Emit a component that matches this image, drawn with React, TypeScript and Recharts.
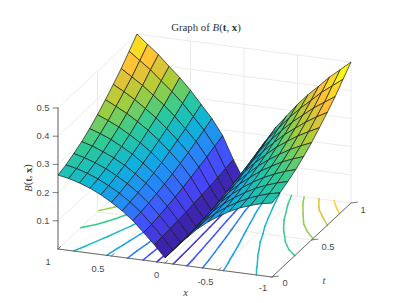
import React from 'react';
import { ScatterChart, Scatter, XAxis, YAxis } from 'recharts';

// Axis ticks and labels
const xTickVals = [1, 0.5, 0, -0.5, -1];
const tTickVals = [0, 0.5, 1];
const zTickVals = [0.1, 0.2, 0.3, 0.4, 0.5];
const xTickLabels = ['1', '0.5', '0', '-0.5', '-1'];
const tTickLabels = ['0', '0.5', '1'];
const zTickLabels = ['0.1', '0.2', '0.3', '0.4', '0.5'];
const contourLevels = [0.05, 0.1, 0.15, 0.2, 0.25, 0.3, 0.35, 0.4, 0.45];

// Surface grid
const xValues = [-1, -0.9, -0.8, -0.7, -0.6, -0.5, -0.4, -0.3, -0.2, -0.1, 0, 0.1, 0.2, 0.3, 0.4, 0.5, 0.6, 0.7, 0.8, 0.9, 1];
const tValues = [0, 0.1, 0.2, 0.3, 0.4, 0.5, 0.6, 0.7, 0.8, 0.9, 1];
// B(t, |x|) for |x| = 0, 0.1 ... 1, one list per t
const bT00 = [0.018, 0.06, 0.098, 0.135, 0.165, 0.19, 0.212, 0.23, 0.244, 0.255, 0.262];
const bT01 = [0.0185, 0.062, 0.101, 0.139, 0.17, 0.196, 0.218, 0.237, 0.252, 0.264, 0.272];
const bT02 = [0.019, 0.064, 0.106, 0.145, 0.177, 0.204, 0.227, 0.247, 0.263, 0.276, 0.286];
const bT03 = [0.02, 0.067, 0.112, 0.152, 0.184, 0.213, 0.238, 0.259, 0.276, 0.291, 0.302];
const bT04 = [0.021, 0.07, 0.119, 0.16, 0.194, 0.224, 0.251, 0.273, 0.293, 0.309, 0.322];
const bT05 = [0.022, 0.074, 0.127, 0.17, 0.205, 0.237, 0.265, 0.289, 0.311, 0.329, 0.345];
const bT06 = [0.024, 0.078, 0.136, 0.181, 0.218, 0.252, 0.283, 0.309, 0.333, 0.353, 0.372];
const bT07 = [0.025, 0.083, 0.146, 0.193, 0.232, 0.268, 0.301, 0.329, 0.356, 0.379, 0.4];
const bT08 = [0.026, 0.088, 0.156, 0.206, 0.246, 0.285, 0.32, 0.35, 0.38, 0.405, 0.43];
const bT09 = [0.028, 0.094, 0.168, 0.22, 0.263, 0.305, 0.342, 0.375, 0.409, 0.437, 0.465];
const bT10 = [0.03, 0.1, 0.18, 0.235, 0.28, 0.325, 0.365, 0.4, 0.437, 0.468, 0.5];
const halfRows = [bT00, bT01, bT02, bT03, bT04, bT05, bT06, bT07, bT08, bT09, bT10];

// Full table: row = t, column = x from -1 to 1
const surface = halfRows.map((r) => [...r.slice(1).reverse(), ...r]);
const cMin = 0.018;
const cMax = 0.5;

// Oblique view of the box
const ORIGIN = [58, 249];
const UX = [214, 28];
const VT = [79, -74];
const ZH = 282;
const project = (x: number, t: number, z: number) => {
  const u = (1 - x) / 2;
  return [ORIGIN[0] + u * UX[0] + t * VT[0], ORIGIN[1] + u * UX[1] + t * VT[1] - z * ZH];
};
const depth = (x: number, t: number, z: number) => (1 - x) / 2 - 2.709 * t + 0.81 * z;

const PARULA = [
  [60, 35, 170], [70, 72, 255], [40, 132, 250], [14, 178, 220],
  [45, 203, 150], [170, 206, 55], [255, 190, 55], [250, 245, 20],
];
const parula = (z: number) => {
  const f = Math.max(0, Math.min(1, (z - cMin) / (cMax - cMin))) * 7;
  const i = Math.min(6, Math.floor(f));
  const w = f - i;
  const c = PARULA[i].map((v, k) => Math.round(v + (PARULA[i + 1][k] - v) * w));
  return `rgb(${c[0]},${c[1]},${c[2]})`;
};

type Seg = { px: number; py: number; dx: number; dy: number; color: string; w: number };
const seg = (a: number[], b: number[], color: string, w: number): Seg => ({
  px: a[0], py: a[1], dx: b[0] - a[0], dy: b[1] - a[1], color, w,
});

// Walls and floor grid
const GRID = '#e6e6e6';
const gridSegs: Seg[] = [];
zTickVals.forEach((z) => {
  gridSegs.push(seg(project(1, 0, z), project(1, 1, z), GRID, 0.8));
  gridSegs.push(seg(project(1, 1, z), project(-1, 1, z), GRID, 0.8));
});
xTickVals.forEach((x) => {
  gridSegs.push(seg(project(x, 0, 0), project(x, 1, 0), GRID, 0.8));
  gridSegs.push(seg(project(x, 1, 0), project(x, 1, 0.5), GRID, 0.8));
});
tTickVals.forEach((t) => {
  gridSegs.push(seg(project(1, t, 0), project(-1, t, 0), GRID, 0.8));
  gridSegs.push(seg(project(1, t, 0), project(1, t, 0.5), GRID, 0.8));
});

// Axis lines and ticks
const AXIS = '#5a5a5a';
const axisSegs: Seg[] = [
  seg(project(1, 0, 0), project(-1, 0, 0), AXIS, 0.9),
  seg(project(-1, 0, 0), project(-1, 1, 0), AXIS, 0.9),
  seg(project(1, 0, 0), project(1, 0, 0.5), AXIS, 0.9),
];
xTickVals.forEach((x) => {
  const a = project(x, 0, 0);
  axisSegs.push(seg(a, [a[0] + 2.6, a[1] - 2.4], AXIS, 0.8));
});
tTickVals.forEach((t) => {
  const a = project(-1, t, 0);
  axisSegs.push(seg(a, [a[0] + 6.5, a[1] - 0.9], AXIS, 0.8));
});
zTickVals.forEach((z) => {
  const a = project(1, 0, z);
  axisSegs.push(seg(a, [a[0] - 5, a[1]], AXIS, 0.8));
});

// Level lines on the floor, traced through the table
const contourSegs: Seg[] = [];
contourLevels.forEach((lv) => {
  const color = parula(lv);
  for (let i = 0; i < tValues.length - 1; i++) {
    for (let j = 0; j < xValues.length - 1; j++) {
      const c = [
        [xValues[j], tValues[i], surface[i][j]],
        [xValues[j + 1], tValues[i], surface[i][j + 1]],
        [xValues[j + 1], tValues[i + 1], surface[i + 1][j + 1]],
        [xValues[j], tValues[i + 1], surface[i + 1][j]],
      ];
      const hits: number[][] = [];
      for (let k = 0; k < 4; k++) {
        const p = c[k];
        const q = c[(k + 1) % 4];
        if (p[2] >= lv !== q[2] >= lv) {
          const w = (lv - p[2]) / (q[2] - p[2]);
          hits.push(project(p[0] + (q[0] - p[0]) * w, p[1] + (q[1] - p[1]) * w, 0));
        }
      }
      if (hits.length >= 2) contourSegs.push(seg(hits[0], hits[1], color, 1.5));
    }
  }
});

// Surface cells, far ones first
type Cell = { px: number; py: number; pts: number[][]; fill: string; d: number };
const cells: Cell[] = [];
for (let i = 0; i < tValues.length - 1; i++) {
  for (let j = 0; j < xValues.length - 1; j++) {
    const corners = [
      [xValues[j], tValues[i], surface[i][j]],
      [xValues[j + 1], tValues[i], surface[i][j + 1]],
      [xValues[j + 1], tValues[i + 1], surface[i + 1][j + 1]],
      [xValues[j], tValues[i + 1], surface[i + 1][j]],
    ];
    const pts = corners.map((p) => project(p[0], p[1], p[2]));
    cells.push({
      px: pts[0][0],
      py: pts[0][1],
      pts,
      fill: parula(surface[i + 1][j]),
      d: corners.reduce((s, p) => s + depth(p[0], p[1], p[2]), 0) / 4,
    });
  }
}
cells.sort((a, b) => a.d - b.d);

// Text
type Label = { px: number; py: number; text: string };
const xLabelPos = [[48, 262], [98, 269], [156.5, 275], [205.5, 282], [263, 288]];
const tLabelPos = [[285, 283], [328, 247], [363, 210]];
const tickTexts: Label[] = [
  ...xTickLabels.map((text, i) => ({ px: xLabelPos[i][0], py: xLabelPos[i][1], text })),
  ...tTickLabels.map((text, i) => ({ px: tLabelPos[i][0], py: tLabelPos[i][1], text })),
  ...zTickLabels.map((text, i) => {
    const p = project(1, 0, zTickVals[i]);
    return { px: p[0] - 15, py: p[1], text };
  }),
];

const SegShape = (p: any) => (
  <line x1={p.cx} y1={p.cy} x2={p.cx + p.payload.dx} y2={p.cy + p.payload.dy}
    stroke={p.payload.color} strokeWidth={p.payload.w} strokeLinecap="round" />
);
const CellShape = (p: any) => {
  const { pts, px, py, fill } = p.payload;
  const s = pts.map((q: number[]) => `${p.cx + q[0] - px},${p.cy + q[1] - py}`).join(' ');
  return <polygon points={s} fill={fill} stroke="#1a1a1a" strokeWidth={0.7} strokeLinejoin="round" />;
};
const TickShape = (p: any) => (
  <text x={p.cx} y={p.cy} textAnchor="middle" dominantBaseline="central"
    fontFamily="'Liberation Sans', Arial, sans-serif" fontSize={9.3} fill="#4a4a4a">{p.payload.text}</text>
);
const SERIF = "'Liberation Serif', serif";
const TitleShape = (p: any) => (
  <text x={p.cx} y={p.cy} textAnchor="middle" dominantBaseline="central" fontFamily={SERIF} fontSize={10.8} fill="#333">
    Graph of <tspan fontStyle="italic">B</tspan>(<tspan fontWeight="bold">t</tspan>, <tspan fontWeight="bold">x</tspan>)
  </text>
);
const XNameShape = (p: any) => (
  <text x={p.cx} y={p.cy} textAnchor="middle" dominantBaseline="central" fontFamily={SERIF} fontStyle="italic" fontSize={10.5} fill="#444">{p.payload.text}</text>
);
const ZNameShape = (p: any) => (
  <text x={p.cx} y={p.cy} textAnchor="middle" dominantBaseline="central" fontFamily={SERIF} fontSize={10.5} fill="#444"
    transform={`rotate(-90 ${p.cx} ${p.cy})`}>
    <tspan fontStyle="italic">B</tspan>(<tspan fontWeight="bold">t</tspan>, <tspan fontWeight="bold">x</tspan>)
  </text>
);

const titleData = [{ px: 206, py: 26.5 }];
const axisNameData: Label[] = [{ px: 185.5, py: 292.5, text: 'x' }, { px: 324, py: 280, text: 't' }];
const zNameData = [{ px: 27.5, py: 178 }];

export default function App() {
  return (
    <div style={{ position: 'absolute', left: 0, top: 0, width: 418, height: 303, background: '#fff' }}>
      <ScatterChart width={418} height={303} margin={{ top: 0, right: 0, bottom: 0, left: 0 }}>
        <XAxis type="number" dataKey="px" domain={[0, 418]} hide />
        <YAxis type="number" dataKey="py" domain={[0, 303]} reversed hide />
        <Scatter data={gridSegs} shape={SegShape} isAnimationActive={false} />
        <Scatter data={contourSegs} shape={SegShape} isAnimationActive={false} />
        <Scatter data={axisSegs} shape={SegShape} isAnimationActive={false} />
        <Scatter data={cells} shape={CellShape} isAnimationActive={false} />
        <Scatter data={tickTexts} shape={TickShape} isAnimationActive={false} />
        <Scatter data={axisNameData} shape={XNameShape} isAnimationActive={false} />
        <Scatter data={zNameData} shape={ZNameShape} isAnimationActive={false} />
        <Scatter data={titleData} shape={TitleShape} isAnimationActive={false} />
      </ScatterChart>
    </div>
  );
}
